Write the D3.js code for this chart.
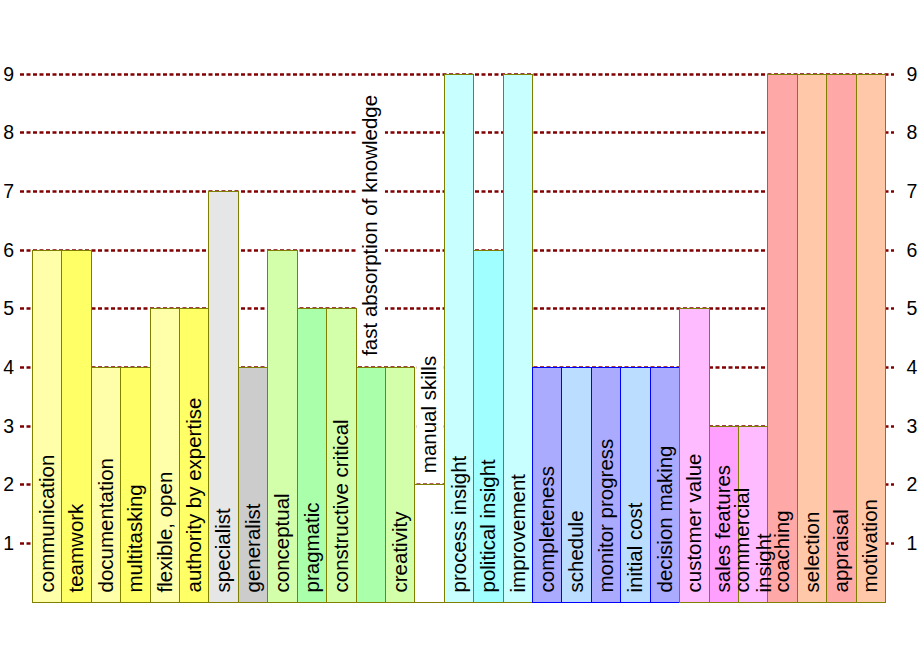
<!DOCTYPE html>
<html>
<head>
<meta charset="utf-8">
<script src="https://cdn.jsdelivr.net/npm/d3@7"></script>
<style>
  body { margin: 0; background: #fff; }
  text { font-family: "Liberation Sans", Arial, sans-serif; }
</style>
</head>
<body>
<div id="chart"></div>
<script>
// skills and their scores (0..9)
var categories = ["communication", "teamwork", "documentation", "multitasking",
  "flexible, open", "authority by expertise", "specialist", "generalist",
  "conceptual", "pragmatic", "constructive critical", "fast absorption of knowledge",
  "creativity", "manual skills", "process insight", "political insight", "improvement",
  "completeness", "schedule", "monitor progress", "initial cost", "decision making",
  "customer value", "sales features", "commercial\ninsight",
  "coaching", "selection", "appraisal", "motivation"];
var values = [6, 6, 4, 4, 5, 5, 7, 4, 6, 5, 5, 4, 4, 2, 9, 6, 9,
  4, 4, 4, 4, 4, 5, 3, 3, 9, 9, 9, 9];
var fills = ["#ffffaa", "#ffff66", "#ffffaa", "#ffff66", "#ffffaa", "#ffff66",
  "#e6e6e6", "#cccccc",
  "#d4ffaa", "#aaffaa", "#d4ffaa", "#aaffaa", "#d4ffaa", "#ffffff",
  "#c8ffff", "#a0ffff", "#c8ffff",
  "#aaaaff", "#bbddff", "#aaaaff", "#bbddff", "#aaaaff",
  "#ffbbff", "#ffa0ff", "#ffbbff",
  "#ffa8a8", "#ffc8a8", "#ffa8a8", "#ffc8a8"];
var borders = ["#808000", "#808000", "#808000", "#808000", "#808000", "#808000",
  "#808000", "#808000",
  "#808000", "#808000", "#808000", "#808000", "#808000", "#808000",
  "#808000", "#808000", "#808000",
  "#0000ff", "#0000ff", "#0000ff", "#0000ff", "#0000ff",
  "#808000", "#808000", "#808000",
  "#808000", "#808000", "#808000", "#808000"];
var yTicks = [1, 2, 3, 4, 5, 6, 7, 8, 9];

var width = 920, height = 660;
var plot = {left: 32, right: 885, top: 73.5, bottom: 601.5};

var svg = d3.select("#chart").append("svg")
    .attr("width", width)
    .attr("height", height);

var x = d3.scaleBand()
    .domain(categories)
    .range([plot.left, plot.right])
    .padding(0);

var y = d3.scaleLinear()
    .domain([0, 9])
    .range([plot.bottom, plot.top]);

// dashed grid lines
svg.append("g").selectAll("line")
    .data(yTicks)
    .enter().append("line")
    .attr("x1", 20)
    .attr("x2", 894)
    .attr("y1", function(d) { return Math.round(y(d)) + 0.5; })
    .attr("y2", function(d) { return Math.round(y(d)) + 0.5; })
    .attr("stroke", "#800000")
    .attr("stroke-width", 2.5)
    .attr("stroke-dasharray", "4,2.5");

// tick labels left and right
svg.append("g").selectAll("text")
    .data(yTicks)
    .enter().append("text")
    .attr("x", 14)
    .attr("y", function(d) { return y(d); })
    .attr("dy", "0.36em")
    .attr("text-anchor", "end")
    .attr("font-size", 19.5)
    .text(function(d) { return d; });

svg.append("g").selectAll("text")
    .data(yTicks)
    .enter().append("text")
    .attr("x", 912)
    .attr("y", function(d) { return y(d); })
    .attr("dy", "0.36em")
    .attr("text-anchor", "middle")
    .attr("font-size", 19.5)
    .text(function(d) { return d; });

var data = categories.map(function(c, i) {
  return {name: c, lines: c.split("\n"), value: values[i], fill: fills[i], border: borders[i]};
});

var bgLayer = svg.append("g");
var barLayer = svg.append("g");
var labelLayer = svg.append("g");

barLayer.selectAll("rect")
    .data(data)
    .enter().append("rect")
    .attr("x", function(d) { return Math.round(x(d.name)) + 0.5; })
    .attr("y", function(d) { return Math.round(y(d.value)) + 0.5; })
    .attr("width", function(d) { return Math.round(x(d.name) + x.bandwidth()) - Math.round(x(d.name)); })
    .attr("height", function(d) { return Math.round(y(0)) - Math.round(y(d.value)); })
    .attr("fill", function(d) { return d.fill; })
    .attr("stroke", function(d) { return d.border; })
    .attr("stroke-width", 1);

// rotated labels: inside the bar if they fit, otherwise above it
labelLayer.selectAll("text")
    .data(data)
    .enter().append("text")
    .attr("font-size", 20.5)
    .attr("fill", "#000")
    .each(function(d) {
      var t = d3.select(this);
      var n = d.lines.length;
      d.lines.forEach(function(line, k) {
        t.append("tspan")
          .attr("x", 0)
          .attr("y", 0)
          .attr("dy", ((k - (n - 1) / 2) * 1.05 + 0.35) + "em")
          .text(line);
      });
      var len = d3.max(t.selectAll("tspan").nodes(), function(s) { return s.getComputedTextLength(); });
      var cx = x(d.name) + x.bandwidth() / 2;
      var barH = y(0) - y(d.value);
      var y0;
      if (len + 16 <= barH) {
        y0 = y(0) - 9;
      } else {
        y0 = y(d.value) - 11;
        bgLayer.append("rect")
          .attr("x", x(d.name) + 2)
          .attr("y", y0 - len - 10)
          .attr("width", x.bandwidth() - 2)
          .attr("height", len + 20)
          .attr("fill", "#fff");
      }
      t.attr("transform", "translate(" + cx + "," + y0 + ") rotate(-90)");
    });
</script>
</body>
</html>
